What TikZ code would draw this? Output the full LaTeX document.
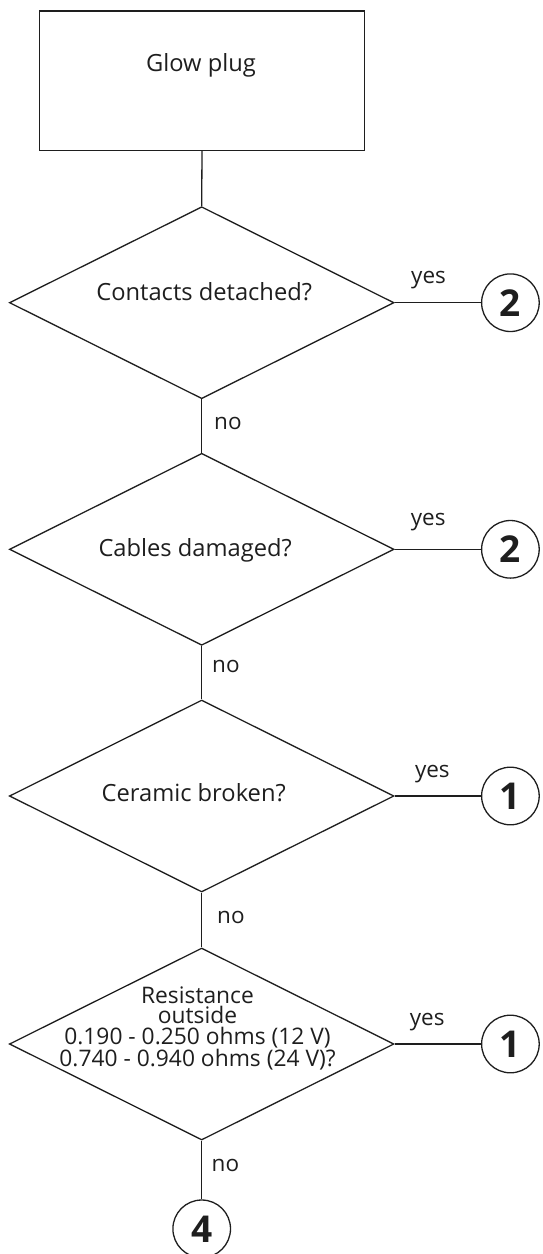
\documentclass[tikz,border=0pt]{standalone}
\usepackage{fontspec}
\setmainfont{Open Sans}
\usetikzlibrary{shapes.geometric}
\definecolor{ink}{HTML}{1E1E1E}
\begin{document}
\begin{tikzpicture}[x=1pt,y=-1pt,
  procbox/.style={draw=ink, line width=1.3pt, rectangle, minimum width=325.3pt, minimum height=139.3pt, inner sep=0pt},
  decision/.style={draw=ink, line width=1.3pt, diamond, minimum width=384.6pt, minimum height=192pt, inner sep=0pt},
  conn/.style={draw=ink, line width=1.3pt, circle, minimum size=57.6pt, inner sep=0pt, text=ink, font=\fontsize{37}{40}\selectfont\bfseries},
  maintext/.style={inner sep=0pt, anchor=base, text=ink, font=\fontsize{23.7}{28}\selectfont},
  lbl/.style={inner sep=0pt, anchor=base west, text=ink, font=\fontsize{22.5}{27}\selectfont},
  link/.style={draw=ink, line width=1.3pt}]
\useasboundingbox (0,0) rectangle (542,1254);
% process box
\node[procbox] (box) at (202,80.65) {};
\node[maintext] (boxtxt) at (201,71.7) {Glow plug};
% decisions
\node[decision] (d1) at (201.7,302.7) {};
\node[decision] (d2) at (201.7,549.3) {};
\node[decision] (d3) at (201.7,796) {};
\node[decision] (d4) at (201.7,1044) {};
\node[maintext] (t1) at (204.2,300.7) {Contacts detached?};
\node[maintext] (t2) at (195.2,556.7) {Cables damaged?};
\node[maintext] (t3) at (193.7,801.7) {Ceramic broken?};
\node[inner sep=0pt, anchor=north, align=center, text=ink, font=\fontsize{22.8}{20.4}\selectfont] (t4) at (197.5,986.5)
  {Resistance\\outside\\0.190 - 0.250 ohms (12 V)\\0.740 - 0.940 ohms (24 V)?};
% connectors (circles)
\node[conn] (c1) at (510.4,302.7) {2};
\node[conn] (c2) at (510.4,549.3) {2};
\node[conn] (c3) at (510.4,796) {1};
\node[conn] (c4) at (510.4,1044) {1};
\node[conn] (c5) at (201.7,1228.8) {4};
% lines
\draw[link] (box.south) -- (d1.north);
\draw[link] (d1.south) -- (d2.north);
\draw[link] (d2.south) -- (d3.north);
\draw[link] (d3.south) -- (d4.north);
\draw[link] (d4.south) -- (c5.north);
\draw[link] (d1.east) -- (c1.west);
\draw[link] (d2.east) -- (c2.west);
\draw[link] (d3.east) -- (c3.west);
\draw[link] (d4.east) -- (c4.west);
% labels
\node[lbl] (y1) at (411,283.5) {yes};
\node[lbl] (y2) at (410.6,525) {yes};
\node[lbl] (y3) at (414.8,777) {yes};
\node[lbl] (y4) at (409.6,1025) {yes};
\node[lbl] (n1) at (214,429.3) {no};
\node[lbl] (n2) at (212,672.3) {no};
\node[lbl] (n3) at (217,923.3) {no};
\node[lbl] (n4) at (211.5,1171.7) {no};
\end{tikzpicture}
\end{document}
